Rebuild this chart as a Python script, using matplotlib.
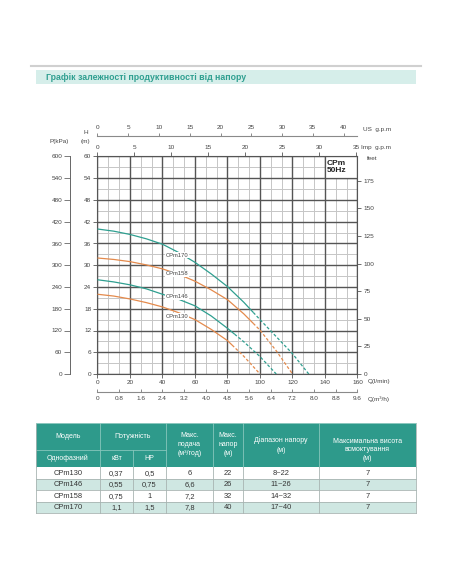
import numpy as np
import matplotlib
matplotlib.use('Agg')
import matplotlib.pyplot as plt
from matplotlib.patches import Rectangle

plt.rcParams['font.family'] = ['Liberation Sans', 'DejaVu Sans']

W, H = 452, 584
TEAL = '#2f9f90'
ORANGE = '#e48a4c'
HEAD = '#2e9a8b'
ROW_LIGHT = '#cfe7e2'
TXT = '#444444'

# ---------------- data ----------------
title = 'Графік залежності продуктивності від напору'

curve_names = ['CPm170', 'CPm158', 'CPm146', 'CPm130']
flow_170 = [0, 10, 20, 30, 40, 50, 60, 70, 80, 90, 100, 110, 120, 130]
head_170 = [40, 39.4, 38.5, 37.3, 35.8, 33.5, 30.8, 27.6, 24.1, 19.8, 15.0, 10.3, 5.6, 0]
flow_158 = [0, 10, 20, 30, 40, 50, 60, 70, 80, 90, 100, 110, 120]
head_158 = [32, 31.6, 31.0, 30.1, 29.0, 27.5, 25.6, 23.2, 20.5, 16.6, 12.1, 6.4, 0]
flow_146 = [0, 10, 20, 30, 40, 50, 60, 70, 80, 90, 100, 110]
head_146 = [26, 25.4, 24.6, 23.5, 22.0, 20.6, 18.8, 16.0, 12.6, 8.9, 4.8, 0]
flow_130 = [0, 10, 20, 30, 40, 50, 60, 70, 80, 90, 100]
head_130 = [22, 21.5, 20.7, 19.7, 18.5, 16.9, 15.0, 12.3, 9.2, 4.9, 0]

q_lpm_ticks = [0, 20, 40, 60, 80, 100, 120, 140, 160]
q_m3h_ticks = [0, 0.8, 1.6, 2.4, 3.2, 4.0, 4.8, 5.6, 6.4, 7.2, 8.0, 8.8, 9.6]
q_m3h_labels = ['0', '0.8', '1.6', '2.4', '3.2', '4.0', '4.8', '5.6', '6.4', '7.2', '8.0', '8.8', '9.6']
us_gpm_ticks = [0, 5, 10, 15, 20, 25, 30, 35, 40]
imp_gpm_ticks = [0, 5, 10, 15, 20, 25, 30, 35]
h_ticks = [0, 6, 12, 18, 24, 30, 36, 42, 48, 54, 60]
p_ticks = [0, 60, 120, 180, 240, 300, 360, 420, 480, 540, 600]
feet_ticks = [0, 25, 50, 75, 100, 125, 150, 175]

models = ['CPm130', 'CPm146', 'CPm158', 'CPm170']
power_kw = ['0,37', '0,55', '0,75', '1,1']
power_hp = ['0,5', '0,75', '1', '1,5']
max_flow = ['6', '6,6', '7,2', '7,8']
max_head = ['22', '26', '32', '40']
head_range = ['8~22', '11~26', '14~32', '17~40']
min_head = [8, 11, 14, 17]
suction = ['7', '7', '7', '7']

# ---------------- figure ----------------
fig = plt.figure(figsize=(W / 100, H / 100), dpi=100)
bg = fig.add_axes([0, 0, 1, 1])
bg.set_xlim(0, W)
bg.set_ylim(H, 0)
bg.axis('off')


def rect(x0, y0, x1, y1):
    return [x0 / W, 1 - y1 / H, (x1 - x0) / W, (y1 - y0) / H]


# title band
bg.plot([31, 421], [66, 66], color='#d0d0d0', lw=1.5)
bg.add_patch(Rectangle((36, 70), 380, 14.3, fc='#d6eeea', ec='none'))
bg.text(46, 77.3, title, color=TEAL, fontsize=6.3, fontweight='bold', va='center', ha='left')

# ---------------- chart ----------------
X0, Y0, X1, Y1 = 97.5, 156.5, 357.5, 374
ax = fig.add_axes(rect(X0, Y0, X1, Y1))
ax.set_xlim(0, 160)
ax.set_ylim(0, 60)
ax.patch.set_alpha(0)

ax.vlines(np.arange(0, 160.01, 20 / 3), 0, 60, color='#c6c6c6', lw=0.7, zorder=0.5)
ax.vlines(np.arange(0, 160.01, 20), 0, 60, color='#555555', lw=1.0, zorder=1)
ax.hlines(np.arange(0, 60.01, 3), 0, 160, color='#c6c6c6', lw=0.7, zorder=0.5)
ax.hlines(np.arange(0, 60.01, 6), 0, 160, color='#555555', lw=1.0, zorder=1)

for sp in ax.spines.values():
    sp.set_color('#555555')
    sp.set_linewidth(0.8)

ax.set_xticks(q_lpm_ticks)
ax.set_yticks(h_ticks)
ax.tick_params(axis='both', direction='out', length=3, width=0.6, color='#555555',
               labelsize=4.6, labelcolor=TXT, pad=1.5)

# curves
curves = [(flow_170, head_170, TEAL), (flow_158, head_158, ORANGE),
          (flow_146, head_146, TEAL), (flow_130, head_130, ORANGE)]
hmins = [min_head[3], min_head[2], min_head[1], min_head[0]]
for (q, h, c), hmin in zip(curves, hmins):
    q = np.array(q, float)
    h = np.array(h, float)
    qs = np.interp(hmin, h[::-1], q[::-1])
    hs = hmin
    m = q < qs
    ax.plot(np.r_[q[m], qs], np.r_[h[m], hs], color=c, lw=0.9, zorder=3,
            solid_capstyle='butt')
    ax.plot(np.r_[qs, q[~m]], np.r_[hs, h[~m]], color=c, lw=0.9, zorder=3,
            dashes=(2.4, 1.6))

label_pos_q = 49
label_pos_h = [32.8, 27.6, 21.3, 16.0]
for name, yh in zip(curve_names, label_pos_h):
    ax.text(label_pos_q, yh, name, fontsize=4.2, color=TXT, ha='center', va='center',
            zorder=4, bbox=dict(fc='white', ec='none', pad=0.4))

# CPm 50Hz box
ax.add_patch(Rectangle((140, 54), 20, 6, fc='white', ec='#555555', lw=0.9, zorder=2))
ax.text(141, 57, 'CPm\n50Hz', fontsize=6, fontweight='bold', color='#222222',
        ha='left', va='center', linespacing=1.05, zorder=4)

# top: Imp g.p.m
ax_imp = ax.twiny()
ax_imp.set_xlim(0, 160 / 4.54609)
ax_imp.set_xticks(imp_gpm_ticks)
for k, sp in ax_imp.spines.items():
    sp.set_visible(False)
ax_imp.tick_params(axis='x', direction='out', length=3, width=0.6, color='#555555',
                   labelsize=4.6, labelcolor=TXT, pad=1.5)

# top: US g.p.m
ax_us = ax.twiny()
ax_us.set_xlim(0, 160 / 3.78541)
ax_us.set_xticks(us_gpm_ticks)
for k, sp in ax_us.spines.items():
    sp.set_visible(k == 'top')
ax_us.spines['top'].set_position(('axes', 1 + (Y0 - 136) / (Y1 - Y0)))
ax_us.spines['top'].set_color('#8a8a8a')
ax_us.spines['top'].set_linewidth(0.8)
ax_us.tick_params(axis='x', direction='out', length=2.5, width=0.6, color='#777777',
                  labelsize=4.6, labelcolor=TXT, pad=1.5)

# left: P(kPa)
ax_p = ax.twinx()
ax_p.set_ylim(0, 600)
ax_p.yaxis.set_ticks_position('left')
ax_p.set_yticks(p_ticks)
for k, sp in ax_p.spines.items():
    sp.set_visible(k == 'left')
ax_p.spines['left'].set_position(('axes', -(X0 - 70) / (X1 - X0)))
ax_p.spines['left'].set_color('#666666')
ax_p.spines['left'].set_linewidth(0.7)
ax_p.tick_params(axis='y', direction='out', length=4, width=0.6, color='#666666',
                 labelsize=4.6, labelcolor=TXT, pad=1.5)

# right: feet
ax_ft = ax.twinx()
ax_ft.set_ylim(0, 60 * 3.28084)
ax_ft.set_yticks(feet_ticks)
for k, sp in ax_ft.spines.items():
    sp.set_visible(False)
ax_ft.tick_params(axis='y', direction='out', length=3, width=0.6, color='#555555',
                  labelsize=4.6, labelcolor=TXT, pad=1.5)

# bottom: m3/h
ax_m3 = ax.twiny()
ax_m3.xaxis.set_ticks_position('bottom')
ax_m3.xaxis.set_label_position('bottom')
ax_m3.set_xlim(0, 9.6)
ax_m3.set_xticks(q_m3h_ticks)
ax_m3.set_xticklabels(q_m3h_labels)
for k, sp in ax_m3.spines.items():
    sp.set_visible(k == 'bottom')
ax_m3.spines['bottom'].set_position(('axes', -(392 - Y1) / (Y1 - Y0)))
ax_m3.spines['bottom'].set_color('#8a8a8a')
ax_m3.spines['bottom'].set_linewidth(0.8)
ax_m3.tick_params(axis='x', direction='in', length=2, width=0.6, color='#777777',
                  labelsize=4.6, labelcolor=TXT, pad=3)

# axis unit texts
fs_u = 4.6
bg.text(363, 129.5, 'US  g.p.m', fontsize=fs_u, color=TXT, va='center', ha='left')
bg.text(361, 147.5, 'Imp  g.p.m', fontsize=fs_u, color=TXT, va='center', ha='left')
bg.text(367, 159, 'feet', fontsize=fs_u, color=TXT, va='center', ha='left')
bg.text(368, 381, 'Q(l/min)', fontsize=fs_u, color=TXT, va='center', ha='left')
bg.text(368, 399.5, 'Q(m³/h)', fontsize=fs_u, color=TXT, va='center', ha='left')
bg.text(59, 141.5, 'P(kPa)', fontsize=fs_u, color=TXT, va='center', ha='center')
bg.text(85.5, 133, 'H', fontsize=fs_u, color=TXT, va='center', ha='center')
bg.text(85.5, 141.5, '(m)', fontsize=fs_u, color=TXT, va='center', ha='center')

# ---------------- table ----------------
cols = [36, 100, 133, 166, 213, 243, 319, 416]
ht, hm, hb = 423, 450, 467
rh = 11.5
bg.add_patch(Rectangle((cols[0], ht), cols[-1] - cols[0], hb - ht, fc=HEAD, ec='none'))
sep = '#86c6bc'
for xc in [100, 166, 213, 243, 319]:
    bg.plot([xc, xc], [ht, hb], color=sep, lw=0.6)
bg.plot([133, 133], [hm, hb], color=sep, lw=0.6)
bg.plot([cols[0], 166], [hm, hm], color=sep, lw=0.6)

hfs = 5.0
wc = 'white'


def cx(i, j=None):
    j = i if j is None else j
    return (cols[i] + cols[j + 1]) / 2


bg.text(cx(0), (ht + hm) / 2, 'Модель', fontsize=hfs, color=wc, ha='center', va='center')
bg.text(cx(0), (hm + hb) / 2, 'Однофазний', fontsize=hfs, color=wc, ha='center', va='center')
bg.text(cx(1, 2), (ht + hm) / 2, 'Потужність', fontsize=hfs, color=wc, ha='center', va='center')
bg.text(cx(1), (hm + hb) / 2, 'кВт', fontsize=hfs, color=wc, ha='center', va='center')
bg.text(cx(2), (hm + hb) / 2, 'HP', fontsize=hfs, color=wc, ha='center', va='center')
bg.text(cx(3), 444.7, 'Макс.\nподача\n(м³/год)', fontsize=hfs, color=wc, ha='center',
        va='center', linespacing=1.45)
bg.text(cx(4), 444.7, 'Макс.\nнапор\n(м)', fontsize=hfs, color=wc, ha='center',
        va='center', linespacing=1.45)
bg.text(cx(5), 445.2, 'Діапазон напору\n(м)', fontsize=hfs, color=wc, ha='center',
        va='center', linespacing=1.45)
bg.text(cx(6), 449.7, 'Максимальна висота\nвсмоктування\n(м)', fontsize=hfs, color=wc,
        ha='center', va='center', linespacing=1.3)

rows = list(zip(models, power_kw, power_hp, max_flow, max_head, head_range, suction))
gridc = '#a8b4b2'
for r, vals in enumerate(rows):
    y = hb + r * rh
    bg.add_patch(Rectangle((cols[0], y), cols[-1] - cols[0], rh,
                           fc=('white' if r % 2 == 0 else ROW_LIGHT), ec='none'))
    for c, v in enumerate(vals):
        bg.text(cx(c), y + rh / 2 + 0.3, v, fontsize=5.4, color='#333333', ha='center', va='center')
    bg.plot([cols[0], cols[-1]], [y + rh, y + rh], color=gridc, lw=0.6)
ybot = hb + len(rows) * rh
for xc in cols:
    bg.plot([xc, xc], [hb, ybot], color=gridc, lw=0.6)
bg.plot([cols[0], cols[0]], [ht, hb], color=gridc, lw=0.6)
bg.plot([cols[-1], cols[-1]], [ht, hb], color=gridc, lw=0.6)
bg.plot([cols[0], cols[-1]], [ht, ht], color='#9fd0c8', lw=0.6)

fig.savefig('out.png', dpi=100)
